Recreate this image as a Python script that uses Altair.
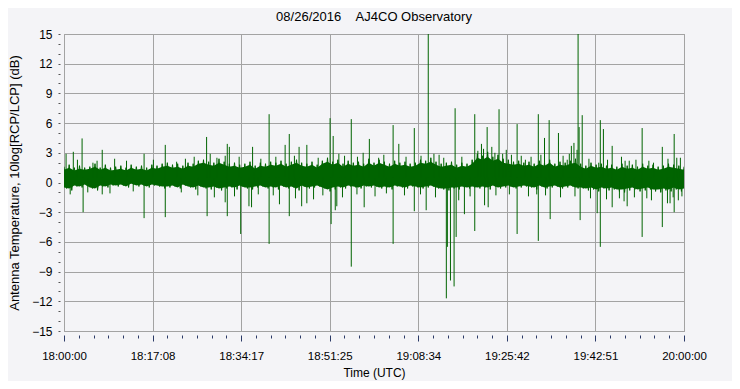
import altair as alt
import pandas as pd

# ---- data ----
x_labels = ["18:00:00", "18:17:08", "18:34:17", "18:51:25",
            "19:08:34", "19:25:42", "19:42:51", "20:00:00"]

# solid core of the noise band, one value per minute (0..120)
core_hi = [1.3, 1.5, 1.2, 1.4, 1.3, 1.4, 1.6, 1.3, 1.5, 1.2,
           1.3, 1.4, 1.2, 1.5, 1.3, 1.4, 1.2, 1.5, 1.4, 1.6,
           1.7, 1.5, 1.6, 1.4, 1.7, 1.6, 1.9, 2.0, 1.8, 1.7,
           2.0, 1.8, 1.6, 1.7, 1.5, 1.6, 1.8, 1.4, 1.7, 1.6,
           1.8, 1.7, 1.9, 1.6, 1.8, 2.0, 1.7, 1.6, 1.8, 1.5,
           1.9, 2.1, 1.8, 2.0, 1.6, 1.9, 1.7, 1.8, 1.6, 2.0,
           1.7, 2.0, 1.8, 1.6, 1.9, 1.7, 1.8, 1.6, 1.7, 2.0,
           1.9, 2.1, 1.8, 1.6, 1.7, 1.8, 1.5, 1.7, 1.6, 1.9,
           2.5, 2.3, 2.6, 2.2, 2.4, 2.0, 1.9, 1.8, 1.9, 1.7,
           1.8, 1.6, 1.9, 1.7, 2.0, 1.6, 1.8, 1.7, 1.9, 2.0,
           1.6, 1.4, 1.7, 1.5, 1.6, 1.4, 1.5, 1.3, 1.6, 1.4,
           1.5, 1.3, 1.6, 1.4, 1.5, 1.3, 1.4, 1.6, 1.5, 1.4,
           1.3]
core_lo = [-0.5, -0.6, -0.3, -0.4, -0.2, -0.5, -0.6, -0.3, -0.4, -0.2,
           -0.3, -0.2, -0.4, -0.1, -0.3, -0.2, -0.4, -0.2, -0.3, -0.4,
           -0.4, -0.3, -0.5, -0.2, -0.4, -0.5, -0.3, -0.5, -0.5, -0.4,
           -0.6, -0.5, -0.4, -0.5, -0.3, -0.5, -0.5, -0.4, -0.3, -0.5,
           -0.4, -0.5, -0.3, -0.5, -0.4, -0.6, -0.3, -0.5, -0.4, -0.3,
           -0.5, -0.7, -0.5, -0.4, -0.5, -0.3, -0.4, -0.5, -0.3, -0.4,
           -0.3, -0.5, -0.4, -0.5, -0.3, -0.4, -0.5, -0.3, -0.4, -0.5,
           -0.4, -0.3, -0.5, -0.6, -0.6, -0.5, -0.5, -0.4, -0.5, -0.4,
           -0.5, -0.4, -0.5, -0.3, -0.5, -0.4, -0.3, -0.5, -0.4, -0.3,
           -0.4, -0.5, -0.3, -0.5, -0.4, -0.3, -0.5, -0.4, -0.3, -0.5,
           -0.5, -0.6, -0.5, -0.7, -0.5, -0.6, -0.5, -0.7, -0.7, -0.6,
           -0.5, -0.7, -0.6, -0.5, -0.7, -0.7, -0.6, -0.7, -0.5, -0.7,
           -0.6]

# ragged outer edge of the band, one high and one low per minute
edge_hi = [1.6, 1.8, 1.5, 1.7, 1.5, 1.6, 1.9, 1.5, 1.8, 1.5,
           1.6, 1.7, 1.5, 1.8, 1.6, 1.7, 1.5, 1.8, 1.7, 1.9,
           2.0, 1.8, 1.9, 1.7, 2.0, 1.9, 2.2, 2.3, 2.1, 2.0,
           2.4, 2.1, 1.9, 2.0, 1.8, 1.9, 2.1, 1.7, 2.0, 1.9,
           2.1, 2.0, 2.2, 1.9, 2.1, 2.3, 2.0, 1.9, 2.1, 1.8,
           2.2, 2.5, 2.1, 2.3, 1.9, 2.2, 2.0, 2.1, 1.9, 2.4,
           2.0, 2.3, 2.1, 1.9, 2.2, 2.0, 2.1, 1.9, 2.0, 2.3,
           2.2, 2.5, 2.1, 1.9, 2.0, 2.1, 1.8, 2.0, 1.9, 2.3,
           2.9, 2.7, 3.1, 2.6, 2.8, 2.4, 2.3, 2.1, 2.2, 2.0,
           2.1, 1.9, 2.2, 2.0, 2.3, 1.9, 2.1, 2.0, 2.2, 2.4,
           1.9, 1.7, 2.0, 1.8, 1.9, 1.7, 1.8, 1.6, 1.9, 1.7,
           1.8, 1.6, 1.9, 1.7, 1.8, 1.6, 1.7, 1.9, 1.8, 1.7,
           1.6]
edge_lo = [-0.6, -0.8, -0.4, -0.5, -0.3, -0.6, -0.8, -0.4, -0.5, -0.3,
           -0.4, -0.3, -0.5, -0.2, -0.4, -0.3, -0.5, -0.3, -0.4, -0.6,
           -0.5, -0.4, -0.6, -0.3, -0.5, -0.7, -0.4, -0.6, -0.7, -0.5,
           -0.8, -0.6, -0.5, -0.7, -0.4, -0.6, -0.7, -0.5, -0.4, -0.6,
           -0.5, -0.7, -0.4, -0.6, -0.5, -0.8, -0.4, -0.6, -0.5, -0.4,
           -0.6, -0.9, -0.7, -0.5, -0.6, -0.4, -0.5, -0.6, -0.4, -0.5,
           -0.4, -0.6, -0.5, -0.7, -0.4, -0.5, -0.6, -0.4, -0.5, -0.6,
           -0.5, -0.4, -0.6, -0.7, -0.8, -0.6, -0.7, -0.5, -0.6, -0.5,
           -0.6, -0.5, -0.7, -0.4, -0.6, -0.5, -0.4, -0.6, -0.5, -0.4,
           -0.5, -0.7, -0.4, -0.6, -0.5, -0.4, -0.6, -0.5, -0.4, -0.6,
           -0.6, -0.8, -0.7, -0.9, -0.6, -0.8, -0.7, -0.9, -1.0, -0.8,
           -0.7, -0.9, -0.8, -0.7, -0.9, -1.0, -0.8, -0.9, -0.7, -0.9]

# isolated spikes: minute after 18:00 and dB value
spike_min = [0.4, 1.8, 3.5, 5.6, 7.4, 15.5, 19.6, 21.8, 27.6, 28.3,
             31.2, 31.6, 32.0, 33.9, 36.5, 39.7, 42.8, 43.6, 45.5, 47.0,
             51.5, 52.1, 53.2, 55.6, 57.9, 59.1, 60.9, 63.7, 64.8, 67.8,
             70.5, 71.6, 72.6, 75.7, 79.5, 80.8, 81.9, 82.8, 84.2, 85.6,
             87.7, 89.3, 91.8, 93.0, 93.9, 95.7, 97.4, 98.2, 98.7, 99.3,
             99.5, 99.7, 100.3, 103.5, 103.8, 104.4, 106.1, 107.9, 109.4, 111.9,
             114.1, 115.8, 118.1, 118.6,
             3.7, 7.4, 15.5, 19.6, 27.7, 31.2, 31.6, 34.2, 35.8, 36.3,
             39.7, 41.7, 43.6, 46.0, 47.0, 48.3, 51.7, 52.5, 52.8, 55.6,
             58.1, 63.7, 67.8, 70.1, 74.0, 74.2, 74.8, 75.5, 75.9, 76.4,
             77.5, 79.5, 81.4, 82.1, 87.7, 91.5, 91.8, 94.1, 99.9, 103.2,
             103.8, 106.1, 107.5, 108.4, 109.0, 111.9, 113.7, 115.8, 116.8, 117.3,
             118.1, 118.9,
             2.6, 6.4, 9.8, 12.1, 17.3, 23.5, 25.2, 29.6, 38.1, 41.0,
             44.6, 49.2, 54.3, 56.8, 61.9, 66.2, 69.1, 73.5, 77.0, 80.1,
             81.2, 83.4, 84.9, 86.6, 88.5, 90.4, 92.3, 96.6, 97.8, 101.6,
             105.2, 108.6, 110.7, 113.2, 116.9, 119.3,
             1.2, 4.6, 8.9, 13.4, 22.7, 25.9, 29.1, 33.0, 37.6, 40.5,
             44.8, 50.1, 53.9, 56.7, 60.2, 62.4, 65.9, 69.0, 71.9, 78.6,
             83.6, 86.2, 89.9, 93.2, 96.1, 98.9, 101.9, 105.0, 110.4, 112.8,
             117.9, 119.6]
spike_db = [2.9, 3.1, 4.45, 2.0, 3.3, 2.9, 3.8, 2.1, 4.6, 2.9,
            2.7, 3.9, 3.6, 2.6, 3.6, 6.9, 3.8, 4.9, 3.6, 3.8,
            6.5, 4.7, 2.9, 6.4, 3.0, 4.4, 2.5, 5.8, 3.9, 5.5,
            15.5, 2.9, 2.8, 7.5, 6.9, 3.9, 5.6, 3.6, 7.4, 3.3,
            5.9, 2.3, 6.9, 4.5, 6.3, 5.0, 2.3, 3.7, 4.0, 3.3,
            15.5, 5.6, 6.8, 2.0, 6.3, 5.4, 3.7, 2.6, 2.2, 5.5,
            2.0, 3.6, 4.9, 2.5,
            -3.0, -1.2, -3.6, -3.5, -3.4, -2.0, -3.4, -5.2, -2.4, -2.5,
            -6.2, -2.2, -3.4, -2.4, -2.1, -1.7, -4.2, -2.8, -2.4, -8.5,
            -2.5, -6.2, -2.9, -2.8, -11.7, -6.5, -9.9, -10.5, -5.5, -1.8,
            -3.2, -4.9, -2.3, -2.5, -5.2, -1.2, -5.9, -3.7, -3.8, -3.1,
            -6.5, -2.5, -1.6, -1.9, -2.4, -5.5, -1.8, -4.5, -2.1, -2.1,
            -3.0, -1.8,
            2.3, 2.2, 2.4, 2.2, 2.3, 2.4, 2.6, 2.5, 2.4, 2.6,
            2.7, 2.5, 2.7, 2.6, 2.8, 2.6, 2.7, 2.5, 2.6, 3.2,
            3.4, 3.0, 2.9, 2.8, 2.7, 2.6, 2.8, 2.7, 2.9, 2.4,
            2.3, 2.2, 2.3, 2.2, 2.4, 2.5,
            -1.2, -1.0, -1.1, -0.9, -1.0, -1.3, -1.5, -1.4, -1.2, -1.3,
            -1.6, -1.3, -1.5, -1.2, -1.4, -1.1, -1.3, -1.2, -1.5, -1.4,
            -1.3, -1.2, -1.4, -1.3, -1.5, -1.4, -1.6, -1.7, -1.5, -1.6,
            -1.5, -1.4]

title_text = "08/26/2016\u00a0\u00a0\u00a0\u00a0AJ4CO Observatory"
y_title = "Antenna Temperature, 10log[RCP/LCP] (dB)"
x_title = "Time (UTC)"

# ---- tables ----
core_df = pd.DataFrame({"t": [float(m) for m in range(len(core_hi))],
                        "hi": core_hi, "lo": core_lo})
rows = []
for m, h in enumerate(edge_hi):
    rows.append({"t": float(m), "v": h})
    if m < len(edge_lo):
        rows.append({"t": m + 0.5, "v": edge_lo[m]})
edge_df = pd.DataFrame(rows)
spike_df = pd.DataFrame({"t": spike_min, "v": spike_db, "base": 0.5})

GREEN = "#006400"
GRID = "#a3a3a3"
TICK = "#2b3a67"
FONT = "Liberation Sans"

major_x = [i * 120 / 7 for i in range(8)]
minor_x = [i * 120 / 42 for i in range(43) if i % 6 != 0]
major_y = list(range(-15, 16, 3))
minor_y = [v for v in range(-15, 16) if v % 3 != 0]

label_arr = "[" + ",".join("'" + s + "'" for s in x_labels) + "]"
label_expr = label_arr + "[round(datum.value * 7 / 120)]"

x_scale = alt.Scale(domain=[0, 120], nice=False, zero=False)
y_scale = alt.Scale(domain=[-15, 15], nice=False, zero=False)

core = alt.Chart(core_df).mark_area(color=GREEN, opacity=1, clip=True).encode(
    x=alt.X("t:Q", scale=x_scale, axis=alt.Axis(
        orient="bottom", values=major_x, labelExpr=label_expr, grid=True,
        gridColor=GRID, gridOpacity=1, domain=False, offset=4, tickSize=6,
        tickColor=TICK, labelPadding=9, labelFontSize=11.5, labelFont=FONT,
        labelColor="#000", labelFlush=False, labelOverlap=False,
        title=x_title, titleFont=FONT, titleFontSize=12, titleFontWeight="normal",
        titleColor="#000", titlePadding=6)),
    y=alt.Y("lo:Q", scale=y_scale, axis=alt.Axis(
        orient="left", values=major_y, grid=True, gridColor=GRID, gridOpacity=1,
        domain=False, offset=4, tickSize=2, tickColor="#555", labelPadding=6,
        labelFontSize=12, labelFont=FONT, labelColor="#000", labelFlush=False,
        labelOverlap=False, title=y_title, titleFont=FONT, titleFontSize=13,
        titleFontWeight="normal", titleColor="#000", titlePadding=10)),
    y2="hi:Q",
)

edge = alt.Chart(edge_df).mark_line(color=GREEN, strokeWidth=1, clip=True).encode(
    x=alt.X("t:Q", scale=x_scale, axis=None),
    y=alt.Y("v:Q", scale=y_scale, axis=None),
)

spikes = alt.Chart(spike_df).mark_rule(color=GREEN, strokeWidth=1, clip=True).encode(
    x=alt.X("t:Q", scale=x_scale, axis=alt.Axis(
        orient="bottom", values=minor_x, labels=False, grid=False, domain=False,
        offset=4, tickSize=3, tickColor=TICK, title=None)),
    y=alt.Y("base:Q", scale=y_scale, axis=alt.Axis(
        orient="left", values=minor_y, labels=False, grid=False, domain=False,
        offset=4, tickSize=2, tickColor="#555", title=None)),
    y2="v:Q",
)

chart = (
    alt.layer(core, edge, spikes)
    .resolve_axis(x="independent", y="independent")
    .properties(
        width=620, height=297,
        title=alt.TitleParams(title_text, font=FONT, fontSize=13,
                              fontWeight="normal", color="#000",
                              anchor="middle", offset=4),
        autosize=alt.AutoSizeParams(type="none"),
        padding={"left": 56, "top": 26, "right": 48, "bottom": 50},
    )
    .configure(background="#f4f4f7")
    .configure_view(stroke="#9a9a9a", strokeWidth=1, fill="#f4f4f7")
)

chart.save("out.html", embed_options={"renderer": "svg", "actions": False})
